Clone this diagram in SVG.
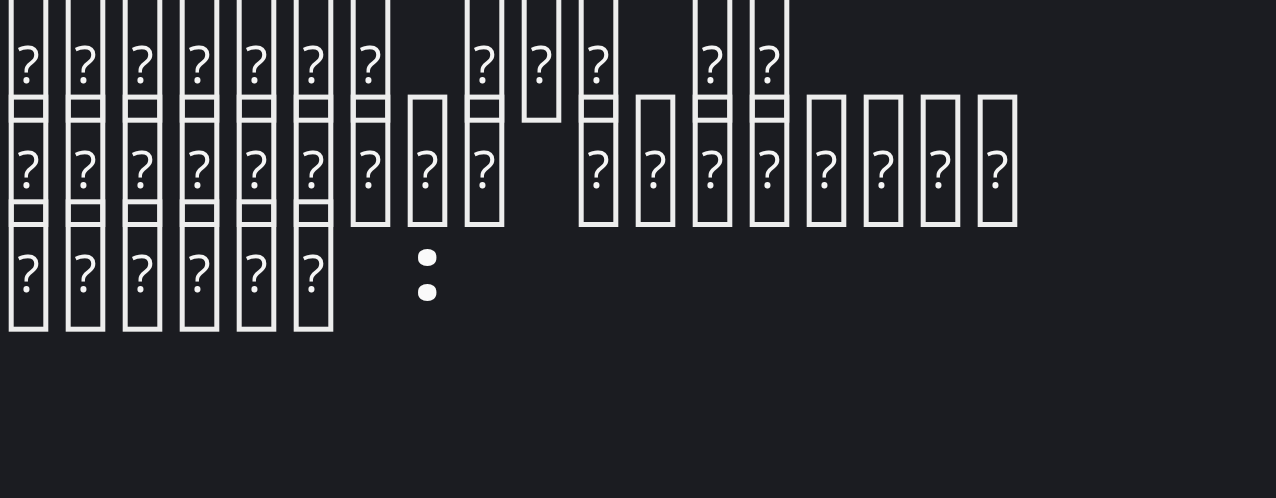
<svg xmlns="http://www.w3.org/2000/svg" width="1276" height="498" viewBox="0 0 1276 498">
<style>
.bg{fill:#1b1c21}
.b{fill:none;stroke:#ededed;stroke-width:5}
.q{font-family:"Open Sans","Noto Sans",sans-serif;font-size:52px;fill:#f5f5f5;text-anchor:middle}
.c{font-family:"Noto Sans","Open Sans",sans-serif;font-weight:900;font-size:90px;fill:#fafafa;text-anchor:middle}
</style>
<defs>
<g id="t">
<rect class="b" x="2.5" y="2.5" width="34.6" height="127.4"/>
<text class="q" x="19.8" y="93">?</text>
</g>
</defs>
<rect class="bg" x="0" y="0" width="1276" height="498"/>
<g id="line1" transform="translate(8.7,-9.7)">
<use href="#t" x="0"/><use href="#t" x="57"/><use href="#t" x="114"/><use href="#t" x="171"/><use href="#t" x="228"/><use href="#t" x="285"/><use href="#t" x="342"/>
<use href="#t" x="456"/><use href="#t" x="513"/><use href="#t" x="570"/>
<use href="#t" x="684"/><use href="#t" x="741"/>
</g>
<g id="line2" transform="translate(8.7,94.6)">
<use href="#t" x="0"/><use href="#t" x="57"/><use href="#t" x="114"/><use href="#t" x="171"/><use href="#t" x="228"/><use href="#t" x="285"/><use href="#t" x="342"/><use href="#t" x="399"/><use href="#t" x="456"/>
<use href="#t" x="570"/><use href="#t" x="627"/><use href="#t" x="684"/><use href="#t" x="741"/><use href="#t" x="798"/><use href="#t" x="855"/><use href="#t" x="912"/><use href="#t" x="969"/>
</g>
<g id="line3" transform="translate(8.7,199.3)">
<use href="#t" x="0"/><use href="#t" x="57"/><use href="#t" x="114"/><use href="#t" x="171"/><use href="#t" x="228"/><use href="#t" x="285"/>
<text class="c" x="418.6" y="101">:</text>
</g>
</svg>
